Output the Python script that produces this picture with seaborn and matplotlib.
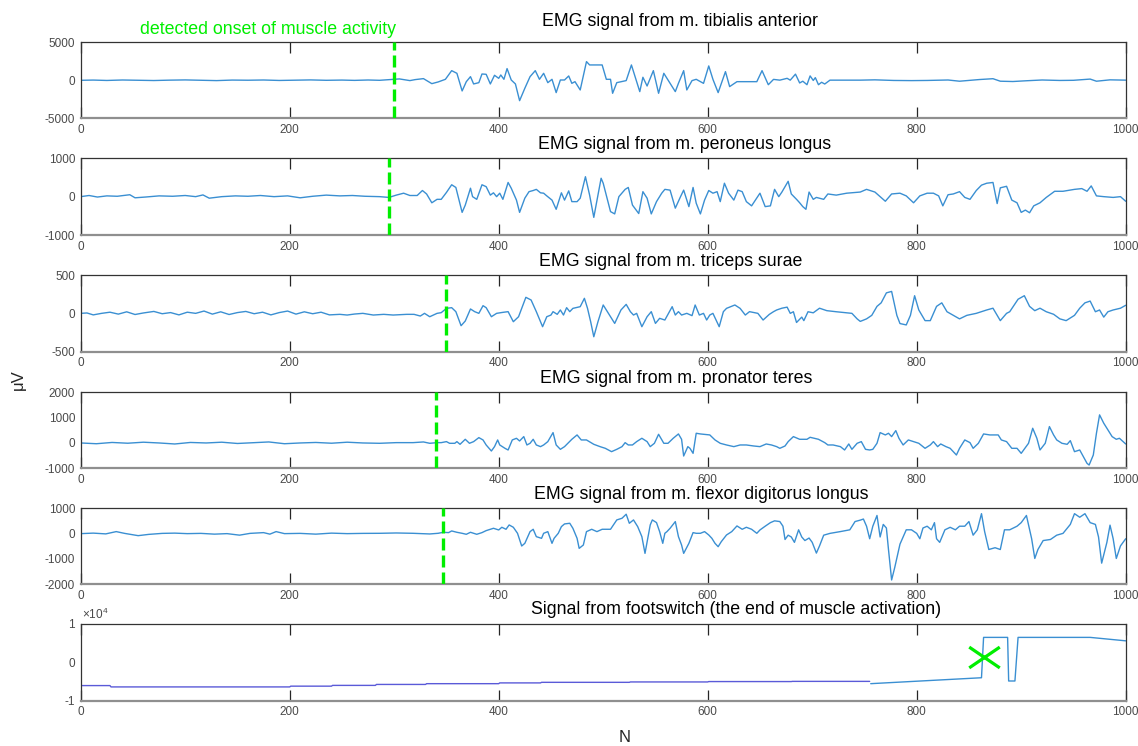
import numpy as np
import matplotlib
matplotlib.use("Agg")
import matplotlib.pyplot as plt
from matplotlib.path import Path
from matplotlib.ticker import FuncFormatter
import seaborn as sns

# ---------------------------------------------------------------------------
# Recorded signals (sample index N, amplitude in uV)
# ---------------------------------------------------------------------------
tibialis_n = [0, 12, 25, 40, 55, 70, 85, 100, 115, 130, 145, 160, 175, 190, 205, 220, 235, 250, 262, 275,
              286, 305, 315, 320, 328, 336, 342, 349, 355, 360, 365, 369, 373, 376, 381, 384, 388, 392, 396,
              400, 402, 405, 408, 412, 416, 420, 425, 430, 435, 439, 443, 447, 451, 455, 459, 463, 467, 470,
              473, 478, 484, 487, 499, 503, 507, 509, 513, 522, 527, 531, 535, 538, 542, 548, 553, 558, 562,
              569, 572, 577, 580, 585, 589, 596, 601, 605, 610, 617, 621, 628, 637, 647, 652, 658, 663, 669,
              676, 679, 684, 688, 691, 695, 698, 701, 703, 706, 709, 712, 717, 746, 760, 778, 795, 810, 830,
              841, 860, 873, 880, 892, 905, 920, 937, 950, 966, 972, 985, 1000]
tibialis_uv = [0, 30, -20, 40, 10, -30, 20, 50, 0, -40, 30, 10, 40, -20, 20, 50, 0, 30, -10, 40,
               0, 180, -40, 90, 220, -440, -220, 130, 1270, 920, -1400, -180, 480, -480, -310, 830, 790, -480, 660,
               260, 700, 130, 1540, 40, -480, -2680, -1050, 480, 1270, 130, 920, -310, 130, -1620, 40, 40, 570, -400,
               -180, -1270, 2460, 2020, 2020, 130, 130, -1710, -310, -40, 2020, 260, -1490, 400, -750, 1270, -1710, 920, 40,
               -1490, -400, 1270, -1270, -40, 130, -400, 1890, 130, -1620, 1140, -830, -180, -180, -180, 1270, -580, 120, 20,
               260, 20, 810, -350, -120, -580, 580, -20, 350, -580, -260, -490, 20, 20, 60, -20, -40, -20, 40,
               -120, 100, 210, -120, -160, -60, 40, -20, 0, 160, -120, 60, 20]

peroneus_n = [0, 8, 16, 25, 35, 47, 52, 62, 75, 88, 100, 110, 117, 123, 135, 148, 160, 172, 185, 198, 210, 222,
              235, 248, 260, 272, 286, 295, 302, 309, 315, 322, 327, 331, 336, 341, 345, 350, 355, 359, 365, 368,
              373, 375, 379, 384, 388, 392, 395, 398, 401, 404, 409, 412, 417, 420, 425, 429, 433, 436, 440, 443,
              446, 451, 455, 460, 463, 467, 470, 475, 478, 483, 487, 491, 498, 500, 507, 511, 515, 521, 524, 528,
              534, 538, 542, 546, 551, 556, 559, 564, 569, 574, 577, 582, 586, 589, 593, 597, 601, 605, 609, 612,
              616, 620, 625, 629, 633, 637, 642, 650, 655, 660, 664, 668, 671, 674, 677, 680, 685, 688, 691, 694,
              697, 701, 704, 711, 715, 723, 733, 746, 752, 760, 770, 776, 784, 790, 797, 803, 810, 816, 821, 825,
              830, 835, 841, 846, 851, 857, 862, 867, 873, 877, 880, 886, 891, 896, 900, 904, 908, 912, 918, 924,
              932, 940, 951, 958, 963, 967, 972, 979, 988, 995, 1000]
peroneus_uv = [0, 30, -10, 20, 10, 50, -30, -10, 20, 10, 30, 0, 45, -40, 0, 20, 10, 30, 0, 20, -30, 10,
               40, 20, 30, 10, 0, -20, 40, 90, 30, 30, 160, 70, -160, -70, -70, 110, 310, 240, -410, -220,
               220, 0, -70, 310, 260, 40, 100, 0, 90, -70, 370, 220, -90, -410, -40, 130, 160, 190, 100, 90,
               20, -90, -330, 100, -90, 150, -130, -130, -40, 520, 40, -540, 480, 350, -390, -450, 0, 190, 240, -220,
               -440, 130, -40, -450, -130, 90, 190, 170, -300, 0, 170, -260, 240, -170, -450, -90, 160, 90, 130, -130,
               350, 90, -90, 170, 130, -130, -240, 90, -260, -240, 190, 0, 120, 260, 400, 70, -70, -160, -260, -330,
               120, -70, -20, -70, 70, 40, 90, 120, 190, 120, -120, 70, 90, 20, -160, 20, 90, 90, 20, -240,
               50, 70, 130, -20, -70, 160, 300, 350, 370, -180, 230, 270, -90, -160, -410, -350, -420, -240, -160, -20,
               140, 140, 190, 210, 140, 280, 20, 0, -20, 0, -120]

triceps_n = [0, 6, 12, 20, 28, 36, 44, 52, 60, 70, 78, 86, 94, 102, 110, 118, 126, 134, 142, 150, 158, 166,
             174, 182, 190, 198, 206, 214, 222, 230, 238, 248, 255, 262, 270, 280, 290, 299, 312, 319, 325, 329,
             334, 341, 345, 350, 355, 359, 364, 368, 373, 377, 381, 385, 388, 393, 398, 404, 409, 414, 419, 422,
             426, 431, 436, 442, 446, 450, 452, 456, 459, 462, 465, 468, 471, 478, 482, 485, 488, 491, 495, 500,
             505, 511, 517, 522, 526, 529, 532, 537, 542, 546, 550, 554, 559, 566, 569, 572, 575, 580, 585, 588,
             592, 596, 599, 602, 605, 611, 615, 618, 626, 631, 636, 640, 648, 653, 659, 663, 666, 671, 676, 679,
             682, 685, 690, 692, 696, 701, 707, 714, 723, 733, 738, 743, 746, 752, 757, 762, 766, 771, 776, 781,
             784, 790, 794, 798, 802, 808, 813, 819, 824, 829, 835, 841, 848, 857, 867, 873, 880, 886, 889, 897,
             903, 908, 913, 918, 924, 931, 937, 943, 951, 956, 961, 966, 971, 975, 979, 983, 988, 995, 1000]
triceps_uv = [0, 5, -20, 0, 15, -10, 20, -15, 5, 25, -5, 10, -20, 15, 0, 30, -10, 20, -15, 10, 25, -5,
              15, -20, 10, 30, -10, 20, -5, 15, -20, -13, -22, -9, 0, -22, -13, -22, -13, -13, -35, 0,
              -44, 0, 9, 65, 74, 22, -161, -100, 57, 22, 0, 100, 74, -44, 0, 13, 22, -109, -44, 65,
              209, 174, 22, -174, -44, -22, 22, -13, 44, -22, 74, 22, 65, 87, 196, 65, -109, -305, -109, 109,
              0, -131, 44, 117, 22, -22, 0, -174, -44, 22, -131, -65, -87, 87, -22, 22, -22, 0, -30, 109,
              -22, 0, -87, -22, 0, -174, 22, 65, 109, 65, -22, 22, 0, -87, -13, 22, 44, 67, 81, 0,
              21, -119, -49, -95, 21, 7, 67, 35, 21, 7, 0, -72, -105, -72, -26, 91, 137, 267, 286, -26,
              -133, -151, -26, 230, 44, -95, -95, 91, 137, 21, -26, -72, -26, 0, 44, 67, -95, 0, 21, 184,
              230, 91, 35, 67, 21, -12, -72, -95, -26, 67, 137, 160, 21, 44, -49, 21, 44, 67, 105]

pronator_n = [0, 15, 30, 45, 60, 75, 90, 105, 120, 135, 150, 165, 180, 195, 210, 225, 240, 255, 270, 286,
              302, 318, 328, 334, 341, 345, 350, 353, 358, 360, 363, 368, 372, 376, 381, 385, 388, 393, 396, 399,
              401, 406, 409, 413, 417, 420, 424, 427, 430, 433, 436, 440, 443, 447, 452, 455, 459, 463, 470, 475,
              479, 484, 491, 497, 502, 508, 513, 518, 521, 524, 528, 532, 537, 542, 545, 549, 553, 558, 562, 567,
              572, 575, 577, 581, 583, 586, 589, 593, 596, 602, 607, 612, 618, 625, 631, 637, 644, 650, 656, 661,
              666, 669, 674, 677, 682, 688, 695, 698, 706, 712, 715, 720, 727, 731, 735, 738, 743, 747, 751, 755,
              758, 762, 765, 770, 773, 776, 780, 783, 787, 792, 797, 802, 808, 813, 816, 820, 823, 828, 832, 838,
              841, 846, 851, 854, 859, 864, 870, 873, 878, 881, 886, 891, 896, 900, 907, 911, 915, 918, 923, 927,
              931, 934, 939, 944, 947, 951, 956, 963, 965, 969, 972, 975, 979, 982, 987, 991, 994, 1000]
pronator_uv = [0, -30, 20, -10, 30, 0, -40, 20, 0, 30, -20, 10, 40, -30, 0, 20, -10, 30, 0, -13,
               13, 13, 40, -13, 13, 13, 53, -13, -13, 53, -53, 145, -13, 53, 211, 119, -79, -317, -145, 119,
               -79, -211, -277, 119, 185, 79, 251, -79, -13, 145, -79, -145, -79, 53, 409, -79, -251, -145, 145, 317,
               119, 119, -53, -145, -211, -343, -251, -145, 13, -79, -79, 53, 185, 53, -145, -13, 343, -13, -13, 185,
               356, 145, -515, -145, -211, -409, 383, 356, 343, 317, 119, -13, -79, -145, -79, -79, -119, -145, -40, -79,
               -145, -211, -119, 53, 251, 145, 145, 224, 145, 13, -79, -79, -145, -277, -40, -251, -13, 53, -251, -277,
               -251, -13, 409, 317, 383, 251, 488, 185, -79, 119, 53, -13, -211, -79, 53, -145, -40, -145, -211, -475,
               -211, 119, 13, -211, -13, 356, 317, 317, 317, 119, 53, -211, -211, -409, -13, 581, 185, -277, -13, 647,
               317, 119, -13, -53, 92, -343, -277, -805, -871, -475, 383, 1109, 779, 581, 251, 145, 185, -40]

flexor_n = [0, 12, 24, 34, 42, 55, 65, 78, 90, 102, 115, 128, 140, 152, 162, 175, 181, 187, 195, 210, 225,
            240, 255, 270, 286, 302, 318, 334, 342, 347, 352, 355, 360, 365, 369, 373, 379, 384, 388, 395, 400,
            403, 407, 410, 414, 418, 422, 425, 430, 433, 436, 441, 443, 447, 451, 453, 457, 460, 463, 468, 471,
            475, 477, 481, 484, 489, 494, 499, 507, 513, 518, 522, 525, 529, 533, 537, 540, 545, 547, 551, 554,
            557, 559, 561, 564, 569, 572, 575, 577, 582, 586, 589, 593, 597, 601, 604, 607, 610, 613, 618, 623,
            628, 633, 637, 642, 647, 650, 655, 660, 664, 669, 672, 674, 677, 680, 683, 687, 690, 693, 697, 700,
            704, 707, 711, 717, 727, 736, 741, 746, 749, 752, 755, 758, 762, 765, 768, 771, 773, 776, 779, 784,
            790, 795, 800, 803, 806, 810, 814, 817, 819, 822, 827, 832, 837, 841, 846, 850, 854, 858, 862, 865,
            869, 875, 880, 884, 889, 896, 900, 905, 910, 913, 916, 921, 928, 934, 940, 947, 951, 956, 961, 966,
            971, 974, 977, 982, 985, 988, 991, 995, 1000]
flexor_uv = [0, 20, -10, 80, 10, -80, -30, 10, 20, 0, 10, -20, 0, -60, 10, 40, -20, 80, 0, 10, -20,
             20, 0, 10, 13, 26, 13, -13, 13, 53, 40, 106, 53, 13, -26, 53, -26, 40, 119, 211, 145,
             251, 172, 343, 251, 13, -488, -383, 79, 172, -119, -185, 13, 79, -383, -185, 13, 277, 383, 409, 211,
             -185, -581, -449, 79, 172, 79, 172, 172, 541, 607, 766, 409, 541, 277, -119, -779, 343, 541, 436, 79,
             -383, 13, 79, 211, 475, -119, -449, -779, -383, 40, 13, 13, 79, -53, -185, -383, -515, -317, -53, 79,
             304, 172, 251, 172, 13, 145, 293, 434, 505, 477, 293, -231, -61, -132, -344, 151, -132, -273, -174, -344,
             -768, -485, -61, 10, 81, 151, 477, 533, 576, 293, -202, 293, 717, -132, 364, 222, -627, -1829, -1334, -414,
             151, 151, 10, -202, 222, 293, 151, 434, -202, -344, 151, 250, 151, 293, 293, 477, -61, 151, 788, 81,
             -627, -556, -627, 151, 151, 293, 434, 717, -202, -980, -627, -273, -231, -61, 10, 364, 788, 647, 788, 434,
             364, -132, -1165, -344, 335, -202, -980, -485, -202]

# Footswitch channel: stepped baseline followed by the switching pulses
switch_base_n = [0, 28, 29, 200, 201, 240, 241, 282, 283, 330, 331, 400, 401, 440, 441, 525, 526, 600, 601, 680, 681, 755]
switch_base_uv = [-6100, -6100, -6450, -6450, -6250, -6250, -6050, -6050, -5800, -5800, -5600, -5600,
                  -5400, -5400, -5250, -5250, -5150, -5150, -5050, -5050, -5000, -5000]
switch_n = [756, 862, 864, 887, 888, 894, 897, 966, 1000]
switch_uv = [-5600, -4050, 6500, 6500, -4900, -4900, 6500, 6500, 5600]

# Detected onset of activity per muscle and the end of activation
muscle_titles = ["EMG signal from m. tibialis anterior",
                 "EMG signal from m. peroneus longus",
                 "EMG signal from m. triceps surae",
                 "EMG signal from m. pronator teres",
                 "EMG signal from m. flexor digitorus longus"]
onsets = [300, 295, 350, 340, 347]
switch_title = "Signal from footswitch (the end of muscle activation)"
end_n, end_uv = 864, 1400

y_limits = [(-5000, 5000), (-1000, 1000), (-500, 500), (-1000, 2000), (-2000, 1000), (-10000, 10000)]
y_ticks = [[-5000, 0, 5000], [-1000, 0, 1000], [-500, 0, 500],
           [-1000, 0, 1000, 2000], [-2000, -1000, 0, 1000], [-10000, 0, 10000]]
x_ticks = [0, 200, 400, 600, 800, 1000]

# ---------------------------------------------------------------------------
sns.set_theme(style="white")
plt.rcParams["font.family"] = ["Liberation Sans", "DejaVu Sans"]
plt.rcParams["axes.unicode_minus"] = False
plt.rcParams["mathtext.fontset"] = "custom"
plt.rcParams["mathtext.rm"] = "Liberation Sans"
plt.rcParams["mathtext.it"] = "Liberation Sans"

W, H = 1138, 746
fig = plt.figure(figsize=(W / 100, H / 100), dpi=100)
fig.patch.set_facecolor("white")

ax_left, ax_right = 80.7, 1125.7
panel_px = [(42.3, 118.3), (158.3, 235.0), (275.0, 351.7), (392.3, 468.3), (508.3, 584.3), (624.0, 700.5)]
title_left_px = [542, 538, 539, 540, 534, 531]
title_rise_px = [16, 9.5, 9.5, 9.5, 9.5, 9.5]

emg_color = "#3a8fd2"
green = "#00ee00"
tick_grey = "#4a4a4a"
title_size = 12.8

axes = []
for top, bot in panel_px:
    ax = fig.add_axes([ax_left / W, 1 - bot / H, (ax_right - ax_left) / W, (bot - top) / H])
    axes.append(ax)

signals = [(tibialis_n, tibialis_uv), (peroneus_n, peroneus_uv), (triceps_n, triceps_uv),
           (pronator_n, pronator_uv), (flexor_n, flexor_uv)]

for i, ax in enumerate(axes):
    if i < 5:
        n, uv = signals[i]
        sns.lineplot(x=n, y=uv, ax=ax, color=emg_color, linewidth=1.0, sort=False, estimator=None)
        ax.axvline(onsets[i], color=green, linewidth=2.4, linestyle=(0, (3.6, 1.5)), zorder=3)
        title = muscle_titles[i]
    else:
        sns.lineplot(x=switch_base_n, y=switch_base_uv, ax=ax, color="#5a5ad8", linewidth=1.0,
                     sort=False, estimator=None)
        sns.lineplot(x=switch_n, y=switch_uv, ax=ax, color=emg_color, linewidth=1.0,
                     sort=False, estimator=None)
        cross = Path([(-1, -0.68), (1, 0.68), (-1, 0.68), (1, -0.68)],
                     [Path.MOVETO, Path.LINETO, Path.MOVETO, Path.LINETO])
        ax.plot([end_n], [end_uv], marker=cross, markersize=22, markeredgewidth=2.3,
                color=green, linestyle="none", zorder=4)
        # tick labels in units of 10^4 with the exponent shown above the axis
        ax.yaxis.set_major_formatter(FuncFormatter(lambda v, pos: f"{v / 1e4:g}"))
        ax.annotate(r"$\times 10^{4}$", xy=(0, 1.0), xycoords="axes fraction", xytext=(1, 1.5),
                    textcoords="offset points", ha="left", va="bottom", fontsize=8.5, color=tick_grey)
        title = switch_title

    ax.set_xlim(0, 1000)
    ax.set_ylim(*y_limits[i])
    ax.set_xticks(x_ticks)
    ax.set_yticks(y_ticks[i])
    ax.set_xlabel("")
    ax.set_ylabel("")
    ax.tick_params(axis="x", direction="in", length=8, width=0.9, color="#262626",
                   top=True, bottom=True, labelsize=8.5, labelcolor=tick_grey, pad=4)
    ax.tick_params(axis="y", direction="in", length=0, labelsize=8.5, labelcolor=tick_grey, pad=4)
    for side in ("top", "left", "right"):
        ax.spines[side].set_color("#333333")
        ax.spines[side].set_linewidth(0.9)
    ax.spines["bottom"].set_color("#8f8f8f")
    ax.spines["bottom"].set_linewidth(1.6)

    tx = (title_left_px[i] - ax_left) / (ax_right - ax_left)
    ax.annotate(title, xy=(tx, 1.0), xycoords="axes fraction", xytext=(0, title_rise_px[i] * 0.72),
                textcoords="offset points", ha="left", va="baseline", fontsize=title_size, color="black")

# short inward y ticks that remain visible in a few panels
for ax, loc in ((axes[3], 1000), (axes[4], -1000), (axes[5], 0)):
    ax.set_yticks([loc], minor=True)
    ax.tick_params(axis="y", which="minor", direction="in", length=7.5, width=0.9, color="#555555")

axes[0].annotate("detected onset of muscle activity", xy=(onsets[0], 1.0),
                 xycoords=("data", "axes fraction"), xytext=(1, 8 * 0.72), textcoords="offset points",
                 ha="right", va="baseline", fontsize=title_size, color=green)

fig.text(625 / W, 1 - 738 / H, "N", ha="center", va="center", fontsize=12, color="#262626")
fig.text(18 / W, 1 - 380 / H, "μV", ha="center", va="center", rotation=90, fontsize=12, color="#262626")

fig.savefig("out.png", dpi=100, facecolor="white")
